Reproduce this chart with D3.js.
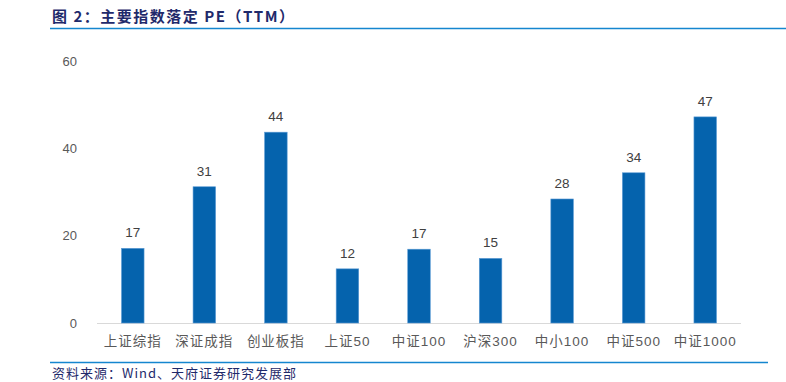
<!DOCTYPE html>
<html>
<head>
<meta charset="utf-8">
<script src="https://cdn.jsdelivr.net/npm/d3@7"></script>
<style>
  body { margin: 0; background: #fff; }
  svg { display: block; }
</style>
</head>
<body>
<svg id="chart" width="786" height="382"></svg>
<script>
// 数据
const categories = ['上证综指', '深证成指', '创业板指', '上证50', '中证100', '沪深300', '中小100', '中证500', '中证1000'];
const peValues = [17.1, 31.2, 43.7, 12.4, 16.9, 14.8, 28.4, 34.4, 47.2];
const yTicks = [0, 20, 40, 60];

const svg = d3.select('#chart');
const margin = {left: 97, right: 45, top: 61, bottom: 59};
const W = 786, H = 382;

/*标题*/
svg.append('text')
  .attr('x', 52).attr('y', 22)
  .attr('fill', '#1f2a6b')
  .style('font-family', '"Noto Sans CJK SC", sans-serif')
  .style('font-weight', 'bold')
  .style('font-size', '15px')
  .style('letter-spacing', '1.5px')
  .text('图 2：主要指数落定 PE（TTM）');
svg.append('line')
  .attr('x1', 50).attr('x2', 786).attr('y1', 28.5).attr('y2', 28.5)
  .attr('stroke', '#1586cf').attr('stroke-width', 1.5);

/*比例尺*/
const x = d3.scaleBand()
  .domain(categories)
  .range([margin.left, W - margin.right])
  .paddingInner(0.685)
  .paddingOuter(0.3425);
const y = d3.scaleLinear()
  .domain([0, 60])
  .range([H - margin.bottom, margin.top]);

/*y轴*/
svg.append('g')
  .selectAll('text')
  .data(yTicks)
  .enter()
  .append('text')
  .attr('x', 77).attr('y', d => y(d))
  .attr('dy', '0.35em')
  .attr('text-anchor', 'end')
  .attr('fill', '#595959')
  .style('font-family', '"Liberation Sans", Arial, sans-serif')
  .style('font-size', '13px')
  .text(d => d);

/*x轴*/
svg.append('line')
  .attr('x1', margin.left).attr('x2', W - margin.right)
  .attr('y1', y(0) + 0.5).attr('y2', y(0) + 0.5)
  .attr('stroke', '#d9d9d9').attr('stroke-width', 1);

svg.append('g')
  .selectAll('text')
  .data(categories)
  .enter()
  .append('text')
  .attr('x', d => x(d) + x.bandwidth() / 2)
  .attr('y', 346)
  .attr('text-anchor', 'middle')
  .attr('fill', '#595959')
  .style('font-family', '"Liberation Sans", "Noto Sans CJK SC", sans-serif')
  .style('font-size', '13.5px')
  .style('letter-spacing', '1px')
  .text(d => d);

/*柱子*/
const bars = svg.append('g');
bars.selectAll('rect')
  .data(peValues)
  .enter()
  .append('rect')
  .attr('x', (d, i) => x(categories[i]))
  .attr('y', d => y(d))
  .attr('width', x.bandwidth())
  .attr('height', d => y(0) - y(d))
  .attr('fill', '#0563ad')
  .attr('stroke', '#5b9bd5')
  .attr('stroke-width', 0.6);

bars.selectAll('text')
  .data(peValues)
  .enter()
  .append('text')
  .attr('x', (d, i) => x(categories[i]) + x.bandwidth() / 2)
  .attr('y', d => y(d) - 11)
  .attr('text-anchor', 'middle')
  .attr('fill', '#404040')
  .style('font-family', '"Liberation Sans", Arial, sans-serif')
  .style('font-size', '13.5px')
  .text(d => Math.round(d));

/*资料来源*/
svg.append('line')
  .attr('x1', 50).attr('x2', 768).attr('y1', 362.5).attr('y2', 362.5)
  .attr('stroke', '#1586cf').attr('stroke-width', 1.5);
svg.append('text')
  .attr('x', 52).attr('y', 378)
  .attr('fill', '#1f2a6b')
  .style('font-family', '"Noto Sans CJK SC", sans-serif')
  .style('font-size', '13px')
  .style('letter-spacing', '1px')
  .text('资料来源：Wind、天府证券研究发展部');
</script>
</body>
</html>
